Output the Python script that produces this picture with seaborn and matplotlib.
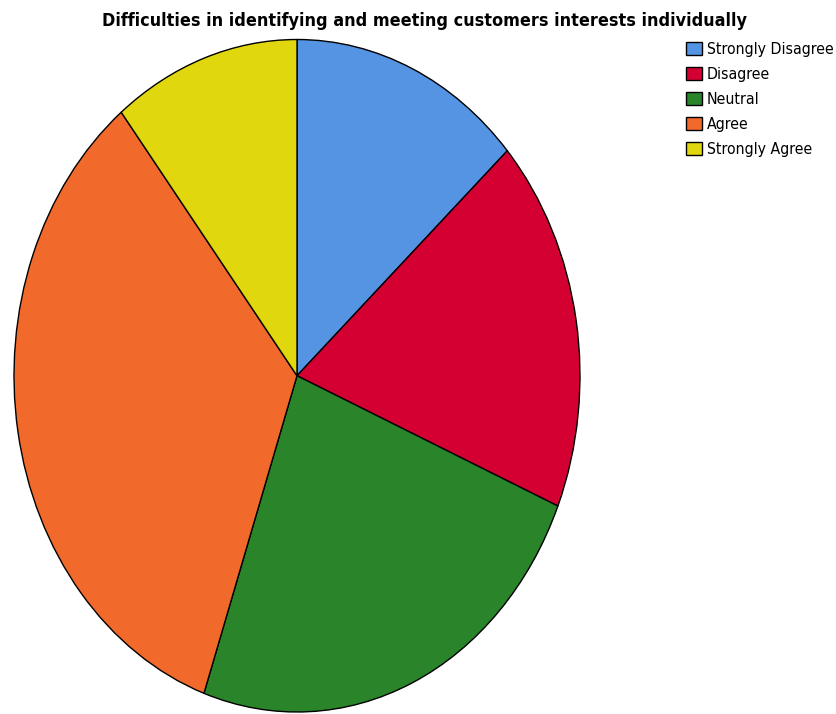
import matplotlib
matplotlib.use("Agg")
import matplotlib.pyplot as plt
import seaborn as sns
from matplotlib import font_manager
from matplotlib.font_manager import FontProperties

# datos (conteos)
categories = ["Strongly Disagree", "Disagree", "Neutral", "Agree", "Strongly Agree"]
counts = [20, 27, 36, 51, 16]
colors = ["#5594E3", "#D50032", "#2A852A", "#F26A2B", "#E1D70F"]
title = "Difficulties in identifying and meeting customers interests individually"

sns.set_style("white")
plt.rcParams["font.family"] = ["Liberation Sans", "DejaVu Sans"]
plt.rcParams["text.color"] = "black"

# buscar una fuente estrecha si existe
narrow = [f for f in font_manager.fontManager.ttflist
          if ("Narrow" in f.fname or "Condensed" in f.fname)]
reg = [f for f in narrow if f.weight in (400, "normal") and f.style == "normal"]
bold = [f for f in narrow if f.weight in (700, "bold") and f.style == "normal"]
if reg and bold:
    fp_reg = FontProperties(fname=reg[0].fname)
    fp_bold = FontProperties(fname=bold[0].fname)
else:
    fp_reg = FontProperties(family="Liberation Sans")
    fp_bold = FontProperties(family="Liberation Sans", weight="bold")

fig = plt.figure(figsize=(8.37, 7.14), dpi=100)
ax = fig.add_axes([14 / 837, 2 / 714, 566 / 837, 672.5 / 714])

wedges, _ = ax.pie(counts, colors=colors, startangle=90, counterclock=False,
                   wedgeprops={"edgecolor": "black", "linewidth": 1.0})
for w in wedges:
    w.set_clip_on(False)
ax.set_aspect("auto")
ax.set_xlim(-1, 1)
ax.set_ylim(-1, 1)
ax.axis("off")

renderer = fig.canvas.get_renderer()

# titulo ajustado a ~648 px de ancho
t = fig.text(424 / 837, 1 - 26 / 714, title, ha="center", va="baseline",
             color="black", fontproperties=fp_bold.copy())
t.set_fontsize(14)
w0 = t.get_window_extent(renderer).width
t.set_fontsize(min(17, 14 * 648 / w0))

# leyenda ajustada a ~127 px para "Strongly Disagree"
probe = fig.text(0, 0, "Strongly Disagree", fontproperties=fp_reg.copy())
probe.set_fontsize(14)
lw = probe.get_window_extent(renderer).width
probe.remove()
lsize = min(14, 14 * 127 / lw)
fp_leg = fp_reg.copy()
fp_leg.set_size(lsize)
px = lsize * 100 / 72


def make_legend(spacing):
    lg = fig.legend(wedges, categories, loc="upper left",
                    bbox_to_anchor=(686 / 837, 1 - 42 / 714), frameon=False,
                    prop=fp_leg, borderpad=0, borderaxespad=0,
                    handlelength=16 / px, handleheight=14 / px,
                    handletextpad=5 / px, labelspacing=spacing, labelcolor="black")
    for h in lg.legend_handles:
        h.set_linewidth(1.0)
    return lg


leg = make_legend(0.1)
fig.canvas.draw()
# filas separadas ~25 px
texts = leg.get_texts()
gap = texts[0].get_window_extent(renderer).y0 - texts[1].get_window_extent(renderer).y0
leg.remove()
leg = make_legend(max(0.0, 0.1 + (25 - gap) / px))

fig.savefig("out.png", dpi=100)
